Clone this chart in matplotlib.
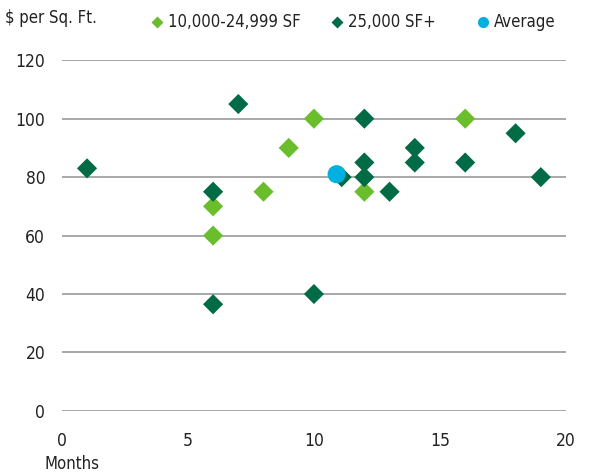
import matplotlib.pyplot as plt

plt.rcParams['font.family'] = ['DejaVu Sans']
plt.rcParams['font.stretch'] = 'condensed'

# 10,000-24,999 SF
small_months = [6, 6, 8, 9, 10, 12, 16]
small_price = [70, 60, 75, 90, 100, 75, 100]

# 25,000 SF+
large_months = [1, 6, 6, 7, 10, 11.1, 12, 12, 12, 13, 14, 14, 16, 18, 19]
large_price = [83, 75, 36.5, 105, 40, 80, 100, 85, 80, 75, 90, 85, 85, 95, 80]

avg_months = [10.9]
avg_price = [81]

light = '#6abd2b'
dark = '#006b45'
blue = '#00b0e0'

fig = plt.figure(figsize=(5.89, 4.74), dpi=100)
ax = fig.add_axes([0.105, 0.133, 0.856, 0.74])

ax.scatter(small_months, small_price, marker='D', s=105, color=light,
           edgecolors='none', zorder=3)
ax.scatter(large_months, large_price, marker='D', s=105, color=dark,
           edgecolors='none', zorder=3)
ax.scatter(avg_months, avg_price, marker='o', s=170, color=blue,
           edgecolors='none', zorder=4)

ax.set_xlim(0, 20)
ax.set_ylim(0, 120)
ax.set_xticks([0, 5, 10, 15, 20])
ax.set_yticks(range(0, 121, 20))
ax.yaxis.grid(True, color='#999999', linewidth=1.2)
ax.set_axisbelow(True)
for s in ax.spines.values():
    s.set_visible(False)
ax.tick_params(length=0, labelsize=12.5, colors='#222222')
ax.tick_params(axis='y', pad=12)
ax.tick_params(axis='x', pad=15)

fig.text(0.008, 0.962, '$ per Sq. Ft.', fontsize=12, color='#222222', va='center')
fig.text(0.076, 0.022, 'Months', fontsize=12, color='#222222', va='center')

# legend drawn by hand along the top
leg_labels = ['10,000-24,999 SF', '25,000 SF+', 'Average']
leg_colors = [light, dark, blue]
leg_markers = ['D', 'D', 'o']
leg_x = [0.267, 0.572, 0.820]
for lx, lab, col, mk in zip(leg_x, leg_labels, leg_colors, leg_markers):
    fig.add_artist(plt.Line2D([lx], [0.953], marker=mk, markersize=6 if mk == 'D' else 8,
                              color=col, markeredgecolor='none', linestyle='none',
                              transform=fig.transFigure))
    fig.text(lx + 0.018, 0.953, lab, fontsize=12, color='#222222', va='center')

fig.savefig('out.png', dpi=100)
